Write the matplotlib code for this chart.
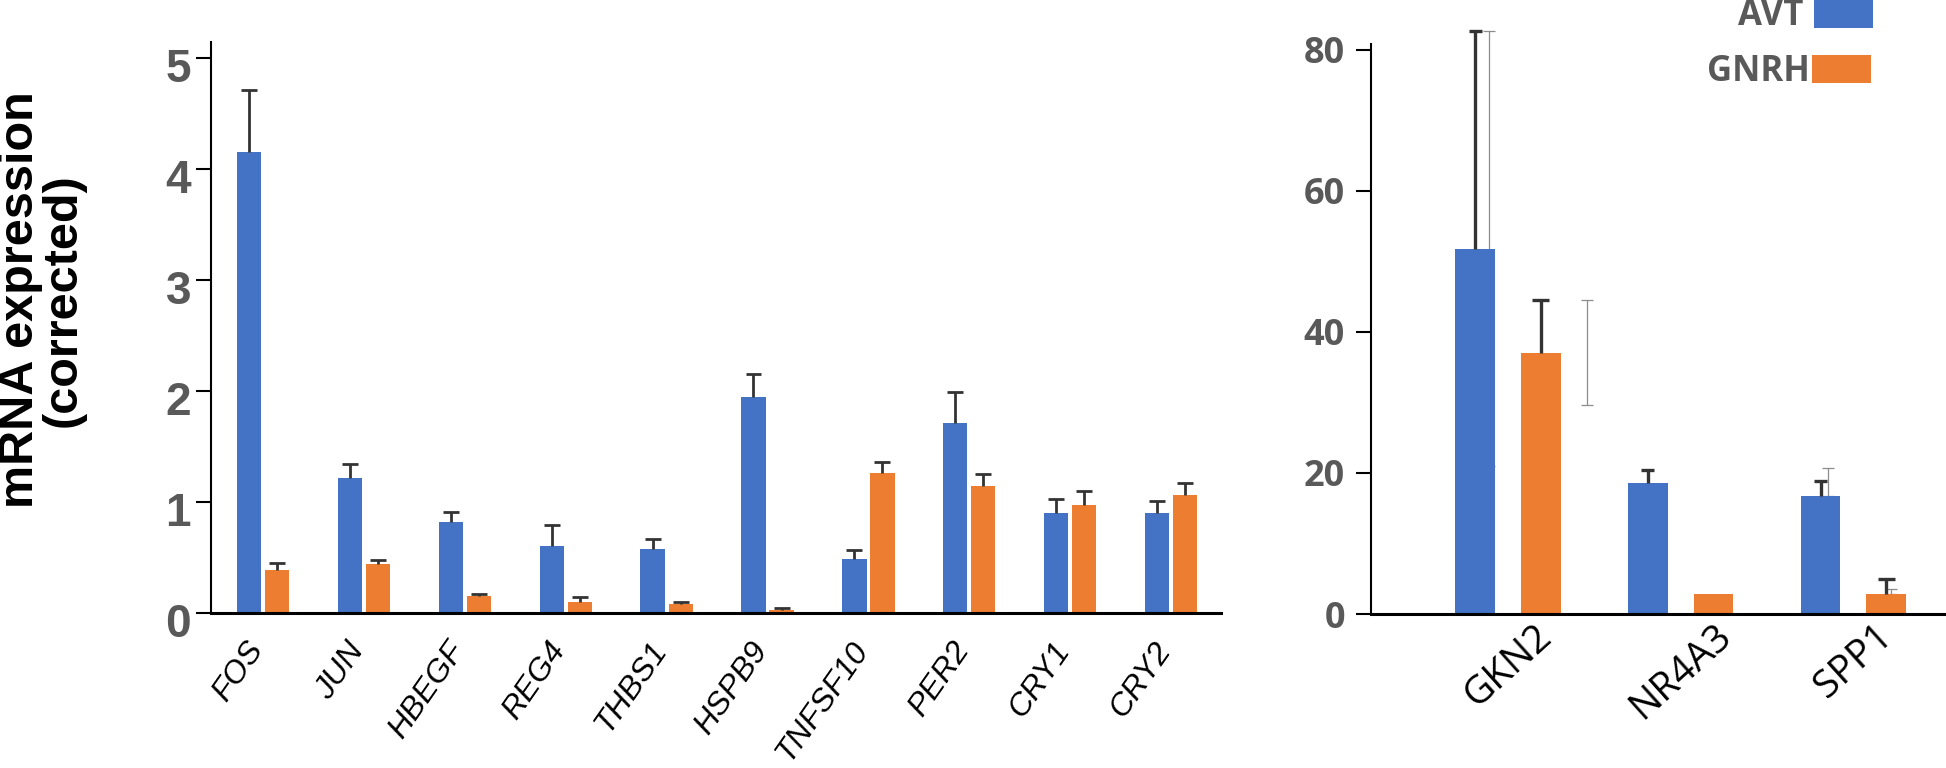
import numpy as np
import matplotlib.pyplot as plt
from matplotlib.patches import Rectangle
from matplotlib.transforms import ScaledTranslation

# Left panel data
genes_left = ["FOS", "JUN", "HBEGF", "REG4", "THBS1", "HSPB9", "TNFSF10", "PER2", "CRY1", "CRY2"]
avt_left = [4.15, 1.22, 0.82, 0.60, 0.58, 1.95, 0.49, 1.71, 0.90, 0.90]
avt_left_top = [4.71, 1.34, 0.91, 0.79, 0.67, 2.15, 0.57, 1.99, 1.03, 1.01]
gnrh_left = [0.39, 0.44, 0.15, 0.10, 0.08, 0.03, 1.26, 1.14, 0.97, 1.06]
gnrh_left_top = [0.45, 0.48, 0.17, 0.14, 0.10, 0.045, 1.36, 1.25, 1.10, 1.17]

# Right panel data
genes_right = ["GKN2", "NR4A3", "SPP1"]
avt_right = [51.8, 18.6, 16.7]
avt_right_top = [82.7, 20.4, 18.8]
gnrh_right = [37.0, 2.8, 2.9]
gnrh_right_top = [44.5, np.nan, 4.9]
# faint grey duplicate error bars
grey_avt_lo = [21.0, np.nan, 16.7]
grey_avt_hi = [82.7, np.nan, 20.7]
grey_gnrh_lo = [29.7, np.nan, 2.9]
grey_gnrh_hi = [44.5, np.nan, 3.5]

BLUE = "#4472C4"
ORANGE = "#ED7D31"
ERR = "#333333"
GREY_TXT = "#595959"

W, H = 1946, 768
plt.rcParams['font.family'] = ['Liberation Sans', 'DejaVu Sans']

fig = plt.figure(figsize=(W / 100, H / 100), dpi=100)


def up_err(ax, x, val, top, cw, lw):
    ax.vlines(x, val, top, color=ERR, lw=lw, zorder=3, clip_on=False)
    ax.hlines(top, x - cw, x + cw, color=ERR, lw=lw, zorder=3, clip_on=False)


# ---- left panel ----
ax1 = fig.add_axes([211 / W, 1 - 613 / H, (1221 - 211) / W, (613 - 42) / H])
x1 = np.arange(len(genes_left))
off1, bw1 = 0.139, 0.24
ax1.bar(x1 - off1, avt_left, bw1, color=BLUE, zorder=2)
ax1.bar(x1 + off1, gnrh_left, bw1, color=ORANGE, zorder=2)
up_err(ax1, x1 - off1, np.array(avt_left), np.array(avt_left_top), 0.079, 2)
up_err(ax1, x1 + off1, np.array(gnrh_left), np.array(gnrh_left_top), 0.079, 2)

ax1.set_xlim(-0.515, 9.494)
ax1.set_ylim(0, 5.144)
ax1.set_yticks(range(6))
ax1.set_xticks(x1)
ax1.set_xticklabels(genes_left, rotation=55, ha='right', va='center', rotation_mode='anchor',
                    fontstyle='italic', fontsize=23)
ax1.tick_params(axis='x', length=0, pad=23)
ax1.tick_params(axis='y', length=10.8, width=1.5, pad=3.6, labelsize=33, labelcolor=GREY_TXT)
for lab in ax1.get_yticklabels():
    lab.set_fontweight('bold')
    lab.set_transform(lab.get_transform() + ScaledTranslation(0, -0.07, fig.dpi_scale_trans))
for lab in ax1.get_xticklabels():
    lab.set_transform(lab.get_transform() + ScaledTranslation(-0.06, 0, fig.dpi_scale_trans))
for s in ['top', 'right']:
    ax1.spines[s].set_visible(False)
ax1.spines['bottom'].set_linewidth(2.2)
ax1.spines['left'].set_linewidth(1.5)

# ---- right panel ----
ax2 = fig.add_axes([1371 / W, 1 - 614 / H, (W - 1371) / W, (614 - 44) / H])
x2 = np.arange(len(genes_right))
off2, bw2 = 0.19, 0.23
grey_shift_avt = np.array([0.08, 0.0, 0.04])
grey_shift_gnrh = np.array([0.27, 0.0, 0.03])
ax2.errorbar(x2 - off2 + grey_shift_avt, grey_avt_lo,
             yerr=[np.zeros(3), np.array(grey_avt_hi) - np.array(grey_avt_lo)],
             fmt='none', ecolor='#8c8c8c', elinewidth=0.9, capsize=4.5, capthick=0.9,
             zorder=1, clip_on=False)
ax2.errorbar(x2 + off2 + grey_shift_gnrh, grey_gnrh_lo,
             yerr=[np.zeros(3), np.array(grey_gnrh_hi) - np.array(grey_gnrh_lo)],
             fmt='none', ecolor='#8c8c8c', elinewidth=0.9, capsize=4.5, capthick=0.9,
             zorder=1, clip_on=False)
ax2.bar(x2 - off2, avt_right, bw2, color=BLUE, zorder=2)
ax2.bar(x2 + off2, gnrh_right, bw2, color=ORANGE, zorder=2)
up_err(ax2, x2 - off2, np.array(avt_right), np.array(avt_right_top), 0.038, 2.4)
up_err(ax2, x2 + off2, np.array(gnrh_right), np.array(gnrh_right_top), 0.05, 2.4)

ax2.set_xlim(-0.793, 2.536)
ax2.set_ylim(0, 80.85)
ax2.set_yticks([0, 20, 40, 60, 80])
ax2.set_xticks(x2)
ax2.set_xticklabels(genes_right, rotation=42, ha='center', fontsize=28, family='Open Sans')
ax2.tick_params(axis='x', length=0, pad=2)
ax2.tick_params(axis='y', length=10.8, width=1.5, pad=8, labelsize=26, labelcolor=GREY_TXT)
for lab in ax2.get_yticklabels():
    lab.set_fontweight('bold')
    lab.set_family('Open Sans')
for s in ['top', 'right']:
    ax2.spines[s].set_visible(False)
ax2.spines['bottom'].set_linewidth(2.2)
ax2.spines['left'].set_linewidth(1.5)

# ---- y label ----
fig.text(42 / W, 1 - 300 / H, "mRNA expression\n(corrected)", rotation=90,
         ha='center', va='center', fontsize=35, fontweight='bold', linespacing=0.92)

# ---- legend ----
fig.text(1803 / W, 1 - 16 / H, "AVT", ha='right', va='center', fontsize=25,
         fontweight='bold', color=GREY_TXT, family='Open Sans')
fig.text(1810 / W, 1 - 72 / H, "GNRH", ha='right', va='center', fontsize=25,
         fontweight='bold', color=GREY_TXT, family='Open Sans')
fig.add_artist(Rectangle((1814 / W, 1 - 28 / H), 59 / W, 28 / H, transform=fig.transFigure,
                         facecolor=BLUE, edgecolor='none'))
fig.add_artist(Rectangle((1812 / W, 1 - 83 / H), 59 / W, 28 / H, transform=fig.transFigure,
                         facecolor=ORANGE, edgecolor='none'))

fig.savefig("out.png", dpi=100)
